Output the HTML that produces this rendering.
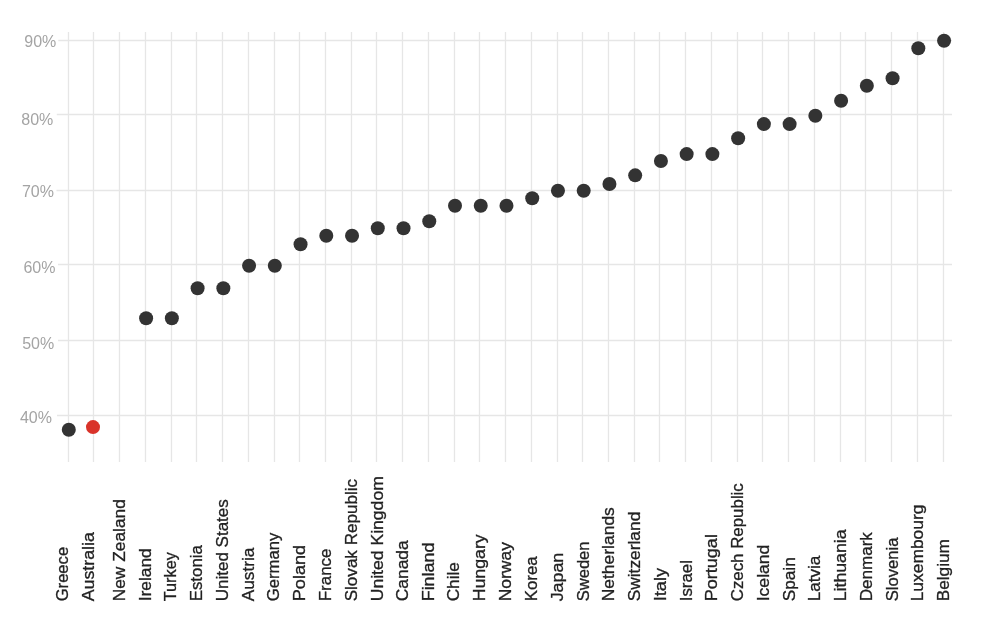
<!DOCTYPE html><html><head><meta charset="utf-8"><style>html,body{margin:0;padding:0;background:#fff;}body{width:1000px;height:629px;overflow:hidden;}svg{display:block;will-change:transform;}text{font-family:"Liberation Sans",sans-serif;}</style></head><body>
<svg width="1000" height="629" viewBox="0 0 1000 629">
<line x1="68.5" y1="32" x2="68.5" y2="462" stroke="#e6e6e6" stroke-width="1.3"/>
<line x1="93.5" y1="32" x2="93.5" y2="462" stroke="#e6e6e6" stroke-width="1.3"/>
<line x1="119.5" y1="32" x2="119.5" y2="462" stroke="#e6e6e6" stroke-width="1.3"/>
<line x1="145.5" y1="32" x2="145.5" y2="462" stroke="#e6e6e6" stroke-width="1.3"/>
<line x1="171.5" y1="32" x2="171.5" y2="462" stroke="#e6e6e6" stroke-width="1.3"/>
<line x1="196.5" y1="32" x2="196.5" y2="462" stroke="#e6e6e6" stroke-width="1.3"/>
<line x1="222.5" y1="32" x2="222.5" y2="462" stroke="#e6e6e6" stroke-width="1.3"/>
<line x1="248.5" y1="32" x2="248.5" y2="462" stroke="#e6e6e6" stroke-width="1.3"/>
<line x1="274.5" y1="32" x2="274.5" y2="462" stroke="#e6e6e6" stroke-width="1.3"/>
<line x1="299.5" y1="32" x2="299.5" y2="462" stroke="#e6e6e6" stroke-width="1.3"/>
<line x1="325.5" y1="32" x2="325.5" y2="462" stroke="#e6e6e6" stroke-width="1.3"/>
<line x1="351.5" y1="32" x2="351.5" y2="462" stroke="#e6e6e6" stroke-width="1.3"/>
<line x1="376.5" y1="32" x2="376.5" y2="462" stroke="#e6e6e6" stroke-width="1.3"/>
<line x1="402.5" y1="32" x2="402.5" y2="462" stroke="#e6e6e6" stroke-width="1.3"/>
<line x1="428.5" y1="32" x2="428.5" y2="462" stroke="#e6e6e6" stroke-width="1.3"/>
<line x1="454.5" y1="32" x2="454.5" y2="462" stroke="#e6e6e6" stroke-width="1.3"/>
<line x1="479.5" y1="32" x2="479.5" y2="462" stroke="#e6e6e6" stroke-width="1.3"/>
<line x1="505.5" y1="32" x2="505.5" y2="462" stroke="#e6e6e6" stroke-width="1.3"/>
<line x1="531.5" y1="32" x2="531.5" y2="462" stroke="#e6e6e6" stroke-width="1.3"/>
<line x1="557.5" y1="32" x2="557.5" y2="462" stroke="#e6e6e6" stroke-width="1.3"/>
<line x1="582.5" y1="32" x2="582.5" y2="462" stroke="#e6e6e6" stroke-width="1.3"/>
<line x1="608.5" y1="32" x2="608.5" y2="462" stroke="#e6e6e6" stroke-width="1.3"/>
<line x1="634.5" y1="32" x2="634.5" y2="462" stroke="#e6e6e6" stroke-width="1.3"/>
<line x1="659.5" y1="32" x2="659.5" y2="462" stroke="#e6e6e6" stroke-width="1.3"/>
<line x1="685.5" y1="32" x2="685.5" y2="462" stroke="#e6e6e6" stroke-width="1.3"/>
<line x1="711.5" y1="32" x2="711.5" y2="462" stroke="#e6e6e6" stroke-width="1.3"/>
<line x1="737.5" y1="32" x2="737.5" y2="462" stroke="#e6e6e6" stroke-width="1.3"/>
<line x1="762.5" y1="32" x2="762.5" y2="462" stroke="#e6e6e6" stroke-width="1.3"/>
<line x1="788.5" y1="32" x2="788.5" y2="462" stroke="#e6e6e6" stroke-width="1.3"/>
<line x1="814.5" y1="32" x2="814.5" y2="462" stroke="#e6e6e6" stroke-width="1.3"/>
<line x1="840.5" y1="32" x2="840.5" y2="462" stroke="#e6e6e6" stroke-width="1.3"/>
<line x1="865.5" y1="32" x2="865.5" y2="462" stroke="#e6e6e6" stroke-width="1.3"/>
<line x1="891.5" y1="32" x2="891.5" y2="462" stroke="#e6e6e6" stroke-width="1.3"/>
<line x1="917.5" y1="32" x2="917.5" y2="462" stroke="#e6e6e6" stroke-width="1.3"/>
<line x1="943.5" y1="32" x2="943.5" y2="462" stroke="#e6e6e6" stroke-width="1.3"/>
<line x1="58.3" y1="40.5" x2="952" y2="40.5" stroke="#e6e6e6" stroke-width="1.3"/>
<line x1="56.8" y1="114.5" x2="952" y2="114.5" stroke="#e6e6e6" stroke-width="1.3"/>
<line x1="56.5" y1="190.5" x2="952" y2="190.5" stroke="#e6e6e6" stroke-width="1.3"/>
<line x1="58" y1="264.5" x2="952" y2="264.5" stroke="#e6e6e6" stroke-width="1.3"/>
<line x1="58" y1="340.5" x2="952" y2="340.5" stroke="#e6e6e6" stroke-width="1.3"/>
<line x1="57" y1="415.5" x2="952" y2="415.5" stroke="#e6e6e6" stroke-width="1.3"/>
<text x="56.3" y="47.2" text-anchor="end" font-size="16" fill="#a4a4a4">90%</text>
<text x="53.3" y="124.5" text-anchor="end" font-size="16" fill="#a4a4a4">80%</text>
<text x="54.0" y="196.7" text-anchor="end" font-size="16" fill="#a4a4a4">70%</text>
<text x="55.5" y="272.5" text-anchor="end" font-size="16" fill="#a4a4a4">60%</text>
<text x="54.2" y="348.5" text-anchor="end" font-size="16" fill="#a4a4a4">50%</text>
<text x="52.0" y="422.5" text-anchor="end" font-size="16" fill="#a4a4a4">40%</text>
<circle cx="68.80" cy="429.80" r="7.0" fill="#333333"/>
<circle cx="93.00" cy="427.10" r="7.0" fill="#d9332a"/>
<circle cx="146.12" cy="318.20" r="7.0" fill="#333333"/>
<circle cx="171.86" cy="318.20" r="7.0" fill="#333333"/>
<circle cx="197.60" cy="288.20" r="7.0" fill="#333333"/>
<circle cx="223.34" cy="288.20" r="7.0" fill="#333333"/>
<circle cx="249.08" cy="265.70" r="7.0" fill="#333333"/>
<circle cx="274.82" cy="265.70" r="7.0" fill="#333333"/>
<circle cx="300.56" cy="244.32" r="7.0" fill="#333333"/>
<circle cx="326.30" cy="235.70" r="7.0" fill="#333333"/>
<circle cx="352.04" cy="235.70" r="7.0" fill="#333333"/>
<circle cx="377.78" cy="228.20" r="7.0" fill="#333333"/>
<circle cx="403.52" cy="228.20" r="7.0" fill="#333333"/>
<circle cx="429.26" cy="221.22" r="7.0" fill="#333333"/>
<circle cx="455.00" cy="205.70" r="7.0" fill="#333333"/>
<circle cx="480.74" cy="205.70" r="7.0" fill="#333333"/>
<circle cx="506.48" cy="205.70" r="7.0" fill="#333333"/>
<circle cx="532.22" cy="198.20" r="7.0" fill="#333333"/>
<circle cx="557.96" cy="190.70" r="7.0" fill="#333333"/>
<circle cx="583.70" cy="190.70" r="7.0" fill="#333333"/>
<circle cx="609.44" cy="183.95" r="7.0" fill="#333333"/>
<circle cx="635.18" cy="175.33" r="7.0" fill="#333333"/>
<circle cx="660.92" cy="161.07" r="7.0" fill="#333333"/>
<circle cx="686.66" cy="154.10" r="7.0" fill="#333333"/>
<circle cx="712.40" cy="154.10" r="7.0" fill="#333333"/>
<circle cx="738.14" cy="138.20" r="7.0" fill="#333333"/>
<circle cx="763.88" cy="124.10" r="7.0" fill="#333333"/>
<circle cx="789.62" cy="124.10" r="7.0" fill="#333333"/>
<circle cx="815.36" cy="115.70" r="7.0" fill="#333333"/>
<circle cx="841.10" cy="100.70" r="7.0" fill="#333333"/>
<circle cx="866.84" cy="85.70" r="7.0" fill="#333333"/>
<circle cx="892.58" cy="78.20" r="7.0" fill="#333333"/>
<circle cx="918.32" cy="48.20" r="7.0" fill="#333333"/>
<circle cx="944.06" cy="40.70" r="7.0" fill="#333333"/>
<text transform="translate(68.20,601.3) rotate(-90)" font-size="16" fill="#222" stroke="#222" stroke-width="0.3" textLength="54.41" lengthAdjust="spacingAndGlyphs">Greece</text>
<text transform="translate(94.43,601.3) rotate(-90)" font-size="16" fill="#222" stroke="#222" stroke-width="0.3" textLength="69.1" lengthAdjust="spacingAndGlyphs">Australia</text>
<text transform="translate(125.16,601.3) rotate(-90)" font-size="16" fill="#222" stroke="#222" stroke-width="0.3" textLength="102.11" lengthAdjust="spacingAndGlyphs">New Zealand</text>
<text transform="translate(150.89,601.3) rotate(-90)" font-size="16" fill="#222" stroke="#222" stroke-width="0.3" textLength="52.98" lengthAdjust="spacingAndGlyphs">Ireland</text>
<text transform="translate(175.62,601.3) rotate(-90)" font-size="16" fill="#222" stroke="#222" stroke-width="0.3" textLength="49.23" lengthAdjust="spacingAndGlyphs">Turkey</text>
<text transform="translate(202.05,601.3) rotate(-90)" font-size="16" fill="#222" stroke="#222" stroke-width="0.3" textLength="56.2" lengthAdjust="spacingAndGlyphs">Estonia</text>
<text transform="translate(228.08,601.3) rotate(-90)" font-size="16" fill="#222" stroke="#222" stroke-width="0.3" textLength="102.11" lengthAdjust="spacingAndGlyphs">United States</text>
<text transform="translate(253.81,601.3) rotate(-90)" font-size="16" fill="#222" stroke="#222" stroke-width="0.3" textLength="53.68" lengthAdjust="spacingAndGlyphs">Austria</text>
<text transform="translate(279.04,601.3) rotate(-90)" font-size="16" fill="#222" stroke="#222" stroke-width="0.3" textLength="68.63" lengthAdjust="spacingAndGlyphs">Germany</text>
<text transform="translate(305.27,601.3) rotate(-90)" font-size="16" fill="#222" stroke="#222" stroke-width="0.3" textLength="56.46" lengthAdjust="spacingAndGlyphs">Poland</text>
<text transform="translate(331.00,601.3) rotate(-90)" font-size="16" fill="#222" stroke="#222" stroke-width="0.3" textLength="52.78" lengthAdjust="spacingAndGlyphs">France</text>
<text transform="translate(356.73,601.3) rotate(-90)" font-size="16" fill="#222" stroke="#222" stroke-width="0.3" textLength="122.31" lengthAdjust="spacingAndGlyphs">Slovak Republic</text>
<text transform="translate(382.76,601.3) rotate(-90)" font-size="16" fill="#222" stroke="#222" stroke-width="0.3" textLength="125.11" lengthAdjust="spacingAndGlyphs">United Kingdom</text>
<text transform="translate(408.19,601.3) rotate(-90)" font-size="16" fill="#222" stroke="#222" stroke-width="0.3" textLength="61.04" lengthAdjust="spacingAndGlyphs">Canada</text>
<text transform="translate(433.92,601.3) rotate(-90)" font-size="16" fill="#222" stroke="#222" stroke-width="0.3" textLength="58.68" lengthAdjust="spacingAndGlyphs">Finland</text>
<text transform="translate(459.15,601.3) rotate(-90)" font-size="16" fill="#222" stroke="#222" stroke-width="0.3" textLength="39.17" lengthAdjust="spacingAndGlyphs">Chile</text>
<text transform="translate(485.38,601.3) rotate(-90)" font-size="16" fill="#222" stroke="#222" stroke-width="0.3" textLength="67.02" lengthAdjust="spacingAndGlyphs">Hungary</text>
<text transform="translate(511.11,601.3) rotate(-90)" font-size="16" fill="#222" stroke="#222" stroke-width="0.3" textLength="59.22" lengthAdjust="spacingAndGlyphs">Norway</text>
<text transform="translate(536.84,601.3) rotate(-90)" font-size="16" fill="#222" stroke="#222" stroke-width="0.3" textLength="45.05" lengthAdjust="spacingAndGlyphs">Korea</text>
<text transform="translate(562.57,601.3) rotate(-90)" font-size="16" fill="#222" stroke="#222" stroke-width="0.3" textLength="48.56" lengthAdjust="spacingAndGlyphs">Japan</text>
<text transform="translate(589.10,601.3) rotate(-90)" font-size="16" fill="#222" stroke="#222" stroke-width="0.3" textLength="59.79" lengthAdjust="spacingAndGlyphs">Sweden</text>
<text transform="translate(614.43,601.3) rotate(-90)" font-size="16" fill="#222" stroke="#222" stroke-width="0.3" textLength="94.13" lengthAdjust="spacingAndGlyphs">Netherlands</text>
<text transform="translate(639.76,601.3) rotate(-90)" font-size="16" fill="#222" stroke="#222" stroke-width="0.3" textLength="89.57" lengthAdjust="spacingAndGlyphs">Switzerland</text>
<text transform="translate(666.49,601.3) rotate(-90)" font-size="16" fill="#222" stroke="#222" stroke-width="0.3" textLength="33.54" lengthAdjust="spacingAndGlyphs">Italy</text>
<text transform="translate(691.72,601.3) rotate(-90)" font-size="16" fill="#222" stroke="#222" stroke-width="0.3" textLength="41.24" lengthAdjust="spacingAndGlyphs">Israel</text>
<text transform="translate(716.95,601.3) rotate(-90)" font-size="16" fill="#222" stroke="#222" stroke-width="0.3" textLength="67.22" lengthAdjust="spacingAndGlyphs">Portugal</text>
<text transform="translate(742.68,601.3) rotate(-90)" font-size="16" fill="#222" stroke="#222" stroke-width="0.3" textLength="118.11" lengthAdjust="spacingAndGlyphs">Czech Republic</text>
<text transform="translate(769.11,601.3) rotate(-90)" font-size="16" fill="#222" stroke="#222" stroke-width="0.3" textLength="56.65" lengthAdjust="spacingAndGlyphs">Iceland</text>
<text transform="translate(794.84,601.3) rotate(-90)" font-size="16" fill="#222" stroke="#222" stroke-width="0.3" textLength="44.07" lengthAdjust="spacingAndGlyphs">Spain</text>
<text transform="translate(819.87,601.3) rotate(-90)" font-size="16" fill="#222" stroke="#222" stroke-width="0.3" textLength="45.65" lengthAdjust="spacingAndGlyphs">Latvia</text>
<text transform="translate(845.60,601.3) rotate(-90)" font-size="16" fill="#222" stroke="#222" stroke-width="0.3" textLength="71.84" lengthAdjust="spacingAndGlyphs">Lithuania</text>
<text transform="translate(872.03,601.3) rotate(-90)" font-size="16" fill="#222" stroke="#222" stroke-width="0.3" textLength="69.19" lengthAdjust="spacingAndGlyphs">Denmark</text>
<text transform="translate(897.76,601.3) rotate(-90)" font-size="16" fill="#222" stroke="#222" stroke-width="0.3" textLength="63.77" lengthAdjust="spacingAndGlyphs">Slovenia</text>
<text transform="translate(922.79,601.3) rotate(-90)" font-size="16" fill="#222" stroke="#222" stroke-width="0.3" textLength="96.69" lengthAdjust="spacingAndGlyphs">Luxembourg</text>
<text transform="translate(948.52,601.3) rotate(-90)" font-size="16" fill="#222" stroke="#222" stroke-width="0.3" textLength="62.26" lengthAdjust="spacingAndGlyphs">Belgium</text>
</svg></body></html>
